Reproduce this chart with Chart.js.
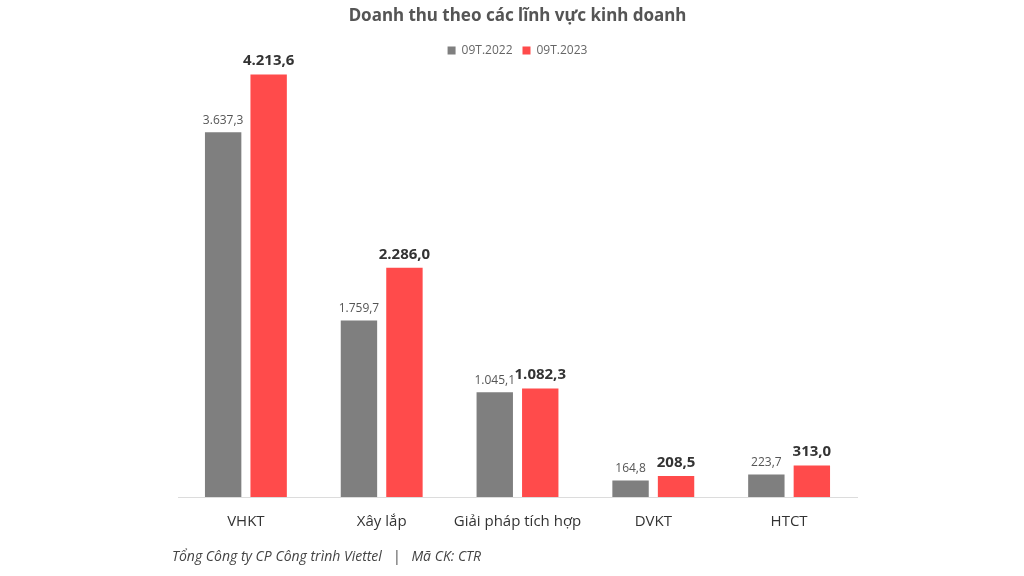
<!DOCTYPE html>
<html>
<head>
<meta charset="utf-8">
<script src="https://cdn.jsdelivr.net/npm/chart.js@4"></script>
<style>
  html, body { margin: 0; padding: 0; background: #fff; }
  #wrap { width: 1024px; height: 576px; }
</style>
</head>
<body>
<div id="wrap"><canvas id="myChart" width="1024" height="576"></canvas></div>
<script>
const categories = ['VHKT', 'Xây lắp', 'Giải pháp tích hợp', 'DVKT', 'HTCT'];
const values2022 = [3637.3, 1759.7, 1045.1, 164.8, 223.7];
const values2023 = [4213.6, 2286.0, 1082.3, 208.5, 313.0];
const seriesNames = ['09T.2022', '09T.2023'];
const footerText = 'Tổng Công ty CP Công trình Viettel   |   Mã CK: CTR';

// số kiểu Việt: 4.213,6
function fmt(v) {
  const parts = v.toFixed(1).split('.');
  parts[0] = parts[0].replace(/\B(?=(\d{3})+(?!\d))/g, '.');
  return parts.join(',');
}

const barLabels = {
  id: 'barLabels',
  afterDatasetsDraw(chart) {
    const ctx = chart.ctx;
    chart.data.datasets.forEach((ds, i) => {
      const meta = chart.getDatasetMeta(i);
      meta.data.forEach((bar, j) => {
        ctx.save();
        ctx.textAlign = 'center';
        ctx.textBaseline = 'bottom';
        if (i === 0) {
          ctx.font = '12px "Open Sans"';
          ctx.fillStyle = '#555';
        } else {
          ctx.font = 'bold 15px "Open Sans"';
          ctx.fillStyle = '#333';
        }
        ctx.fillText(fmt(ds.data[j]), bar.x, bar.y - 6);
        ctx.restore();
      });
    });
  }
};

// footer nằm lệch trái hơn vùng vẽ một chút
const footer = {
  id: 'footer',
  afterDraw(chart) {
    const ctx = chart.ctx;
    ctx.save();
    ctx.font = 'italic 14px "Open Sans"';
    ctx.fillStyle = '#444';
    ctx.textAlign = 'left';
    ctx.textBaseline = 'middle';
    ctx.fillText(footerText, 172, 557);
    ctx.restore();
  }
};

function prepareTemplate() {
  return {
    type: 'bar',
    data: {
      labels: categories,
      datasets: [{
        label: seriesNames[0],
        data: values2022,
        backgroundColor: '#7f7f7f',
        categoryPercentage: 0.67,
        barPercentage: 0.8
      }, {
        label: seriesNames[1],
        data: values2023,
        backgroundColor: '#ff4b4b',
        categoryPercentage: 0.67,
        barPercentage: 0.8
      }]
    },
    options: {
      responsive: false,
      animation: false,
      layout: { padding: { left: 178, right: 167, top: 6, bottom: 37 } },
      plugins: {
        title: {
          display: true,
          text: 'Doanh thu theo các lĩnh vực kinh doanh',
          color: '#555',
          font: { family: '"Noto Sans"', size: 17, weight: 'bold' },
          padding: { top: 0, bottom: 8 }
        },
        legend: {
          labels: {
            boxWidth: 8,
            boxHeight: 8,
            color: '#666',
            font: { family: '"Open Sans"', size: 12 },
            padding: 10
          }
        },
        tooltip: { enabled: false }
      },
      scales: {
        x: {
          grid: { display: false },
          border: { display: true, color: '#dcdcdc' },
          ticks: { color: '#333', font: { family: '"Open Sans"', size: 15 }, padding: 8 }
        },
        y: {
          display: false,
          min: 0,
          max: 4295
        }
      }
    },
    plugins: [barLabels, footer]
  };
}

new Chart(document.getElementById('myChart').getContext('2d'), prepareTemplate());
</script>
</body>
</html>
